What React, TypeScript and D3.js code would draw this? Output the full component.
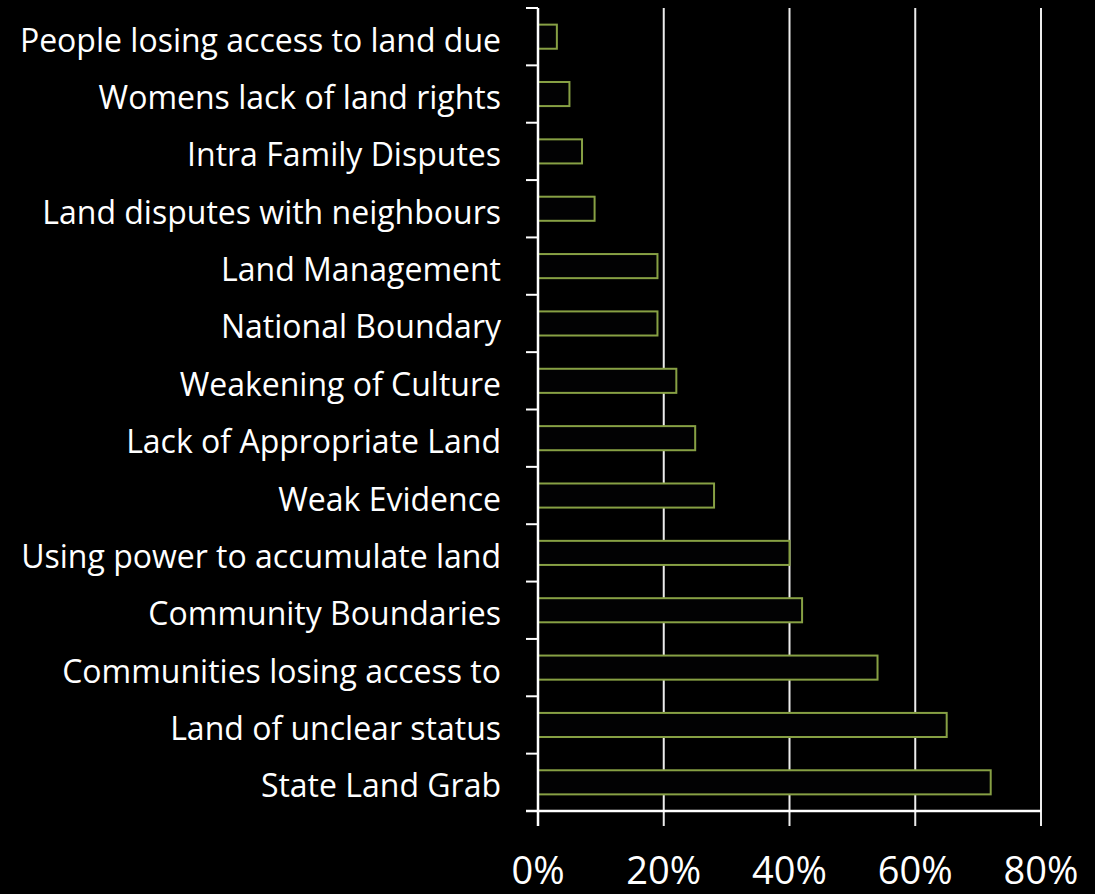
import React, { useEffect, useRef } from 'react';
import * as d3 from 'd3';

const categories = [
  'People losing access to land due',
  'Womens lack of land rights',
  'Intra Family Disputes',
  'Land disputes with neighbours',
  'Land Management',
  'National Boundary',
  'Weakening of Culture',
  'Lack of Appropriate Land',
  'Weak Evidence',
  'Using power to accumulate land',
  'Community Boundaries',
  'Communities losing access to',
  'Land of unclear status',
  'State Land Grab',
];
const values = [3, 5, 7, 9, 19, 19, 22, 25, 28, 40, 42, 54, 65, 72];
const xTicks = [0, 20, 40, 60, 80];

const App: React.FC = () => {
  const ref = useRef<SVGSVGElement | null>(null);

  useEffect(() => {
    if (!ref.current) return;
    const W = 1095;
    const H = 894;
    const svg = d3.select(ref.current).attr('width', W).attr('height', H);
    svg.selectAll('*').remove();

    svg.append('rect').attr('width', W).attr('height', H).attr('fill', '#000');

    const x0 = 538;
    const x1 = 1041;
    const y0 = 8;
    const y1 = 811;

    const x = d3.scaleLinear().domain([0, 80]).range([x0, x1]);
    const y = d3.scaleBand().domain(categories).range([y0, y1]).paddingInner(0.58).paddingOuter(0.29);

    // gridlines
    svg.append('g')
      .selectAll('line')
      .data(xTicks.slice(1))
      .enter().append('line')
      .attr('x1', (d) => x(d))
      .attr('x2', (d) => x(d))
      .attr('y1', y0)
      .attr('y2', y1 + 15)
      .attr('stroke', '#ececec')
      .attr('stroke-width', 2);

    // bars
    svg.append('g')
      .selectAll('rect')
      .data(categories)
      .enter().append('rect')
      .attr('x', x(0))
      .attr('y', (d) => y(d) || 0)
      .attr('width', (d, i) => x(values[i]) - x(0))
      .attr('height', y.bandwidth())
      .attr('fill', '#020203')
      .attr('stroke', '#87a044')
      .attr('stroke-width', 2);

    // y axis line + ticks
    svg.append('line')
      .attr('x1', x0).attr('x2', x0)
      .attr('y1', y0).attr('y2', y1 + 15)
      .attr('stroke', '#fff').attr('stroke-width', 2.5);
    const step = (y1 - y0) / categories.length;
    const yTickPos = d3.range(categories.length + 1).map((i) => y0 + i * step);
    svg.append('g')
      .selectAll('line')
      .data(yTickPos)
      .enter().append('line')
      .attr('x1', x0 - 12).attr('x2', x0)
      .attr('y1', (d) => d).attr('y2', (d) => d)
      .attr('stroke', '#fff').attr('stroke-width', 2);

    // x axis line
    svg.append('line')
      .attr('x1', x0 - 12).attr('x2', x1)
      .attr('y1', y1).attr('y2', y1)
      .attr('stroke', '#fff').attr('stroke-width', 2.5);

    // category labels
    svg.append('g')
      .selectAll('text')
      .data(categories)
      .enter().append('text')
      .attr('x', x0 - 37)
      .attr('y', (d) => (y(d) || 0) + y.bandwidth() / 2 + 15)
      .attr('text-anchor', 'end')
      .attr('fill', '#fff')
      .style('font-family', '"Open Sans", sans-serif')
      .style('font-size', '32px')
      .text((d) => d);

    // x tick labels
    svg.append('g')
      .selectAll('text')
      .data(xTicks)
      .enter().append('text')
      .attr('x', (d) => x(d))
      .attr('y', 884)
      .attr('text-anchor', 'middle')
      .attr('fill', '#fff')
      .style('font-family', '"Open Sans", sans-serif')
      .style('font-size', '38px')
      .text((d) => `${d}%`);
  }, []);

  return (
    <div style={{ position: 'absolute', left: 0, top: 0 }}>
      <svg ref={ref} style={{ display: 'block' }}></svg>
    </div>
  );
};

export default App;
